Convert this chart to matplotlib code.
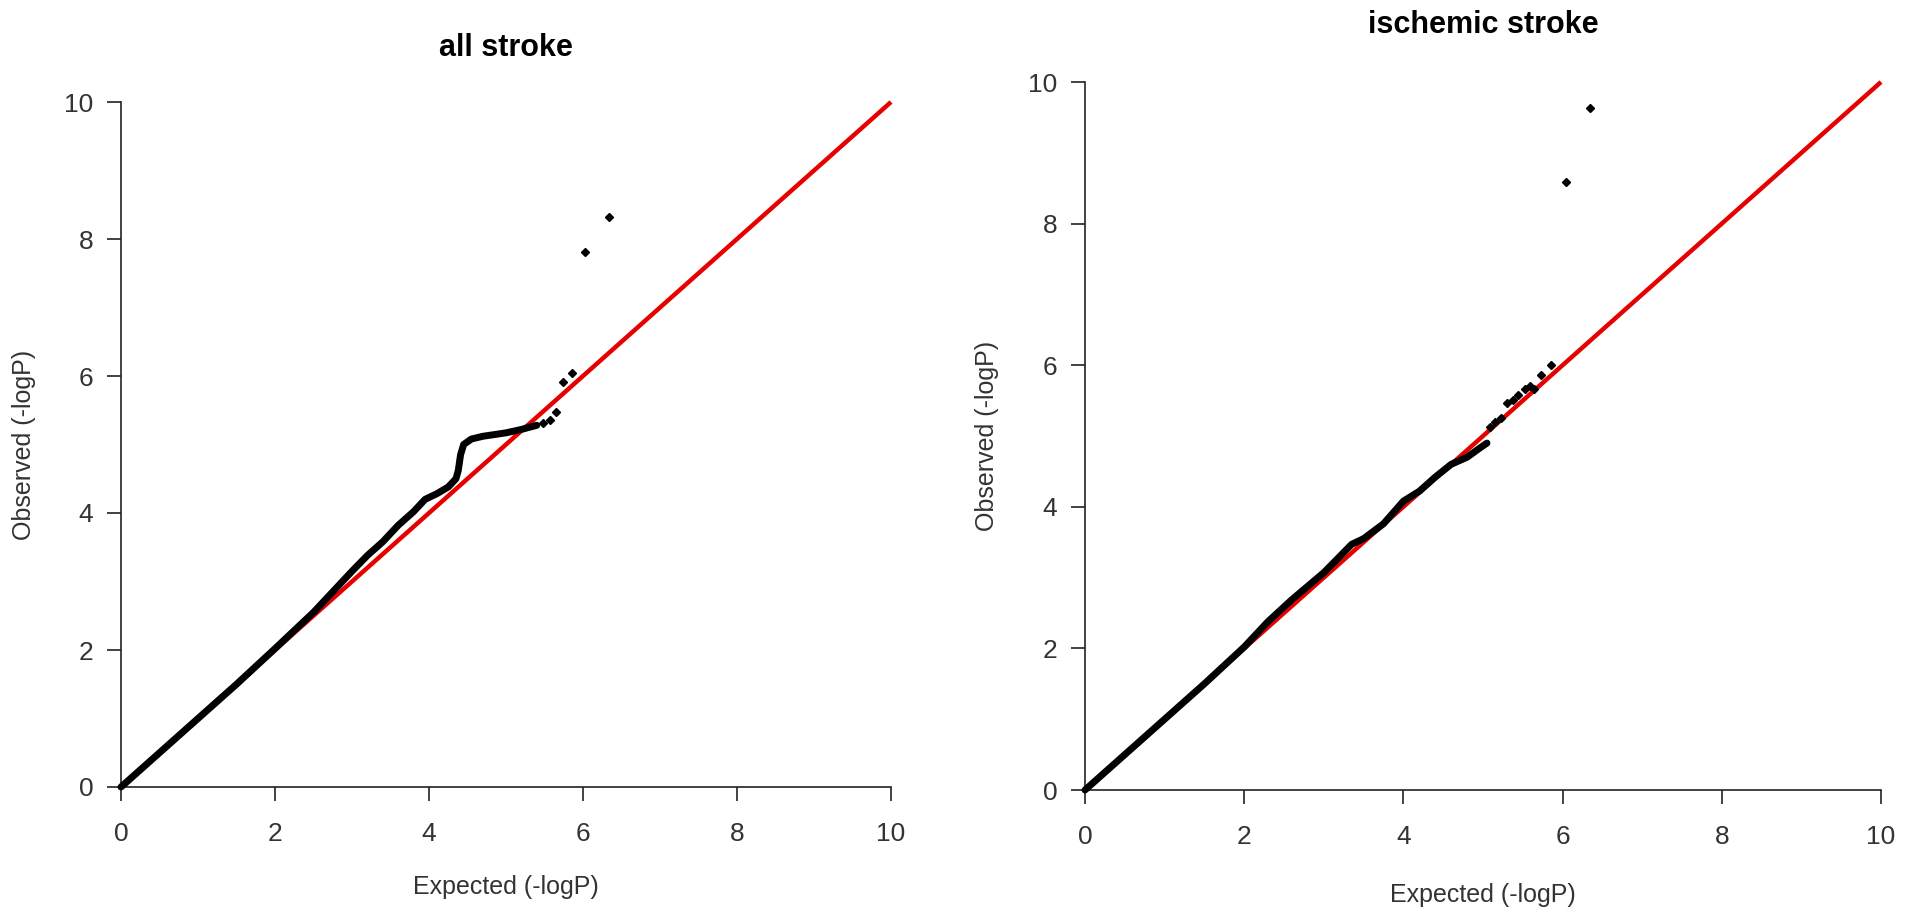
import matplotlib
matplotlib.use("Agg")
import matplotlib.pyplot as plt

plt.rcParams['font.family'] = ['Liberation Sans', 'DejaVu Sans']

# ---- data (expected -logP, observed -logP) ----
titles = ["all stroke", "ischemic stroke"]

all_dense_exp = [0.0, 0.5, 1.0, 1.5, 2.0, 2.5, 2.75, 3.0, 3.2, 3.4, 3.6, 3.8, 3.95, 4.1,
                 4.25, 4.35, 4.38, 4.41, 4.45, 4.55, 4.7, 5.0, 5.2, 5.4]
all_dense_obs = [0.0, 0.5, 1.0, 1.5, 2.02, 2.55, 2.85, 3.15, 3.38, 3.58, 3.82, 4.02, 4.2, 4.28,
                 4.38, 4.5, 4.62, 4.85, 5.0, 5.08, 5.12, 5.17, 5.22, 5.28]
all_tail_exp = [5.48, 5.57, 5.65, 5.74, 5.86, 6.03, 6.34]
all_tail_obs = [5.32, 5.36, 5.48, 5.91, 6.05, 7.81, 8.32]

isc_dense_exp = [0.0, 1.0, 1.5, 2.0, 2.3, 2.6, 3.0, 3.35, 3.5, 3.75, 4.0, 4.2, 4.4, 4.6,
                 4.8, 4.96, 5.05]
isc_dense_obs = [0.0, 1.0, 1.5, 2.02, 2.38, 2.69, 3.07, 3.47, 3.55, 3.76, 4.08, 4.22, 4.42, 4.6,
                 4.7, 4.83, 4.9]
isc_tail_exp = [5.09, 5.15, 5.23, 5.30, 5.38, 5.44, 5.53, 5.59, 5.64, 5.73, 5.85, 6.04, 6.34]
isc_tail_obs = [5.13, 5.20, 5.25, 5.46, 5.51, 5.58, 5.67, 5.70, 5.67, 5.86, 6.00, 8.59, 9.63]

diag = [0, 10]
ticks = [0, 2, 4, 6, 8, 10]
xlabel = "Expected (-logP)"
ylabel = "Observed (-logP)"

W, H = 1908, 913
fig = plt.figure(figsize=(W / 100, H / 100), dpi=100)

# axes boxes in pixel coords: (left, top, right, bottom)
boxes = [(121, 102, 891, 787), (1085, 82, 1881, 790)]
title_y = [48, 25]
xlabel_y = [887, 895]
ylabel_x = [24, 987]

panels = [
    (all_dense_exp, all_dense_obs, all_tail_exp, all_tail_obs),
    (isc_dense_exp, isc_dense_obs, isc_tail_exp, isc_tail_obs),
]

axcol = '#222222'
txtcol = '#333333'
for i, (dx, dy, tx, ty) in enumerate(panels):
    l, t, r, b = boxes[i]
    ax = fig.add_axes([l / W, 1 - b / H, (r - l) / W, (b - t) / H])
    ax.plot(diag, diag, color='#e60000', lw=3.2, zorder=2, solid_capstyle='butt')
    ax.plot(dx, dy, color='black', lw=5.0, zorder=3, solid_capstyle='round')
    ax.plot(tx, ty, linestyle='none', marker='D', markersize=4.5, color='black', zorder=4)
    ax.set_xlim(0, 10)
    ax.set_ylim(0, 10)
    ax.set_xticks(ticks)
    ax.set_yticks(ticks)
    for s in ['top', 'right']:
        ax.spines[s].set_visible(False)
    for s in ['left', 'bottom']:
        ax.spines[s].set_color(axcol)
        ax.spines[s].set_linewidth(1.2)
    ax.tick_params(direction='out', length=10, width=1.2, color=axcol,
                   labelsize=19, labelcolor=txtcol)
    ax.tick_params(axis='x', pad=15)
    ax.tick_params(axis='y', pad=10)
    for ln in ax.lines:
        ln.set_clip_on(False)
    cx = (l + r) / 2 / W
    cy = 1 - (t + b) / 2 / H
    fig.text(cx, 1 - title_y[i] / H, titles[i], ha='center', va='center',
             fontsize=22, fontweight='bold', color='black')
    fig.text(cx, 1 - xlabel_y[i] / H, xlabel, ha='center', va='center',
             fontsize=18, color=txtcol)
    fig.text(ylabel_x[i] / W, cy, ylabel, ha='center', va='center', rotation=90,
             fontsize=18, color=txtcol)

fig.savefig("out.png", dpi=100, facecolor='white')
